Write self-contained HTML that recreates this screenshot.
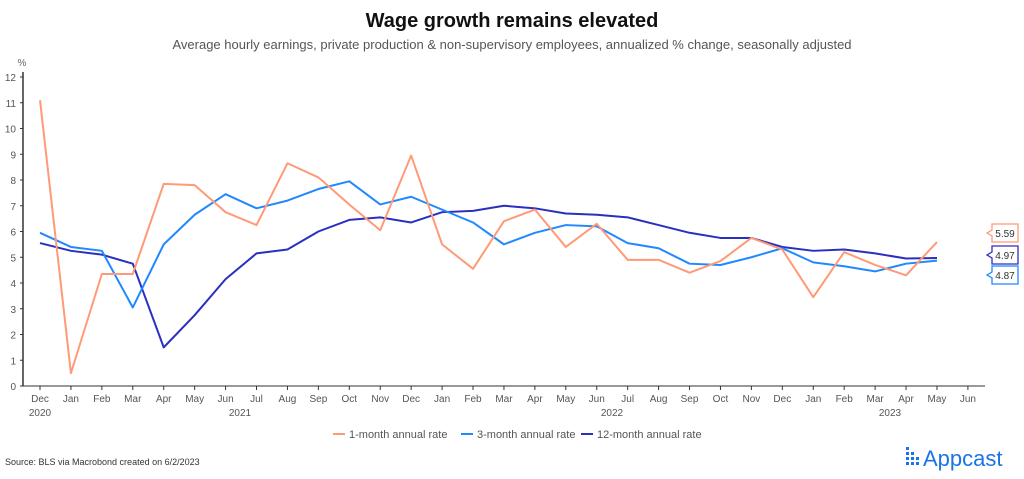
<!DOCTYPE html><html><head><meta charset="utf-8"><style>
body{margin:0;width:1024px;height:474px;background:#fff;font-family:"Liberation Sans",sans-serif;overflow:hidden}
</style></head><body>
<svg id="s" width="1024" height="474" xmlns="http://www.w3.org/2000/svg" font-family="Liberation Sans, sans-serif">
<text x="512" y="27" text-anchor="middle" font-size="20" font-weight="bold" fill="#111">Wage growth remains elevated</text>
<text x="512" y="49" text-anchor="middle" font-size="13" fill="#555">Average hourly earnings, private production &amp; non-supervisory employees, annualized % change, seasonally adjusted</text>
<text x="22" y="66" text-anchor="middle" font-size="10" fill="#666">%</text>
<g id="g"></g>
<text x="5" y="465" font-size="9" fill="#333">Source: BLS via Macrobond created on 6/2/2023</text>
<g fill="#1a73e8">
<rect x="906" y="447" width="3" height="3"/><rect x="906" y="452" width="3" height="3"/><rect x="906" y="457" width="3" height="3"/><rect x="906" y="462" width="3" height="3"/>
<rect x="911" y="452" width="3" height="3"/><rect x="911" y="457" width="3" height="3"/><rect x="911" y="462" width="3" height="3"/>
<rect x="916" y="457" width="3" height="3"/><rect x="916" y="462" width="3" height="3"/>
</g>
<text x="923" y="466" font-size="22" fill="#1a73e8">Appcast</text>
</svg>
<script>
var g=document.getElementById('g'),h='';
function Y(v){return 386-v*25.75}function X(i){return 40+i*30.93}
h+='<line x1="23" y1="72" x2="23" y2="386" stroke="#333" stroke-width="1.5"/>';
h+='<line x1="23" y1="386" x2="985" y2="386" stroke="#333" stroke-width="1"/>';
for(var v=0;v<=12;v++){h+='<line x1="20" x2="23" y1="'+Y(v)+'" y2="'+Y(v)+'" stroke="#333"/><text x="16" y="'+(Y(v)+4)+'" text-anchor="end" font-size="10" fill="#555">'+v+'</text>';}
var m=['Dec','Jan','Feb','Mar','Apr','May','Jun','Jul','Aug','Sep','Oct','Nov'];
for(var i=0;i<31;i++){h+='<line x1="'+X(i)+'" x2="'+X(i)+'" y1="386" y2="390" stroke="#333"/><text x="'+X(i)+'" y="402" text-anchor="middle" font-size="10" fill="#555">'+m[i%12]+'</text>';}
h+='<text x="40" y="416" text-anchor="middle" font-size="10" fill="#555">2020</text><text x="240" y="416" text-anchor="middle" font-size="10" fill="#555">2021</text><text x="612" y="416" text-anchor="middle" font-size="10" fill="#555">2022</text><text x="890" y="416" text-anchor="middle" font-size="10" fill="#555">2023</text>';
var a=[11.1,0.5,4.35,4.35,7.85,7.8,6.75,6.25,8.65,8.1,7.05,6.05,8.95,5.5,4.55,6.4,6.85,5.4,6.3,4.9,4.9,4.4,4.85,5.75,5.3,3.45,5.2,4.7,4.3,5.59];
var b=[5.95,5.4,5.25,3.05,5.5,6.65,7.45,6.9,7.2,7.65,7.95,7.05,7.35,6.85,6.35,5.5,5.95,6.25,6.2,5.55,5.35,4.75,4.7,5.0,5.35,4.8,4.65,4.45,4.75,4.87];
var c=[5.55,5.25,5.1,4.75,1.5,2.75,4.15,5.15,5.3,6.0,6.45,6.55,6.35,6.75,6.8,7.0,6.9,6.7,6.65,6.55,6.25,5.95,5.75,5.75,5.4,5.25,5.3,5.15,4.95,4.97];
function L(d,col){return '<polyline fill="none" stroke="'+col+'" stroke-width="2" stroke-linejoin="round" points="'+d.map(function(v,i){return X(i)+','+Y(v)}).join(' ')+'"/>';}
h+=L(c,'#2b2fbf')+L(b,'#2188ff')+L(a,'#ff9a78');
function T(y,col,t){return '<path d="M992 '+(y-9)+'h26v18h-26v-6l-5,-3 5,-3z" fill="#fff" stroke="'+col+'" stroke-width="1.3"/><text x="1005" y="'+(y+4)+'" text-anchor="middle" font-size="10" fill="#333">'+t+'</text>';}
h+=T(233,'#ff9a78','5.59')+T(255,'#2b2fbf','4.97')+T(275,'#2188ff','4.87');
function Lg(x,col,t){return '<line x1="'+x+'" x2="'+(x+12)+'" y1="434" y2="434" stroke="'+col+'" stroke-width="2"/><text x="'+(x+16)+'" y="438" font-size="11" fill="#555">'+t+'</text>';}
h+=Lg(333,'#ff9a78','1-month annual rate')+Lg(461,'#2188ff','3-month annual rate')+Lg(581,'#2b2fbf','12-month annual rate');
g.innerHTML=h;
</script>
</body></html>
